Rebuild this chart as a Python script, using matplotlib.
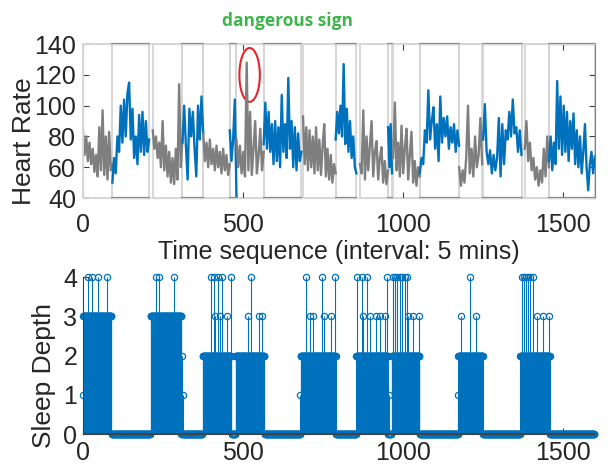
import matplotlib
matplotlib.use('Agg')
import matplotlib.pyplot as plt
from matplotlib.patches import Rectangle, Ellipse
import numpy as np

plt.rcParams['font.family'] = ['Liberation Sans', 'DejaVu Sans']

BLUE = '#0072BD'
GRAY = '#7f7f7f'

# heart rate: segments of the night (start, end), alternating grey / blue trace
SEG_START = [0, 92, 218, 311, 376, 459, 480, 565, 688, 790, 866, 954, 970, 1053, 1176, 1251, 1381, 1457]
SEG_END = [92, 207, 311, 376, 459, 480, 565, 683, 790, 855, 954, 966, 1053, 1176, 1248, 1371, 1457, 1600]
SEG_BLUE = [False, True] * 9

# heart rate values, evenly spread over each segment
hr_s01 = [84, 68, 80, 64, 76, 62, 72, 57, 68, 54, 86, 58, 97, 55, 80, 52, 83, 58, 62]
hr_s02 = [50, 66, 56, 80, 70, 100, 76, 104, 80, 108, 115, 78, 98, 66, 80, 62, 94, 70, 96, 68, 90, 70, 78]
hr_s03 = [84, 72, 80, 66, 76, 60, 90, 58, 74, 54, 70, 50, 66, 49, 72, 52, 114, 60, 78]
hr_s04 = [76, 100, 74, 52, 98, 80, 96, 72, 54, 100, 78, 106, 82]
hr_s05 = [82, 64, 76, 60, 78, 62, 72, 58, 74, 60, 70, 56, 72, 58, 68, 55, 62]
hr_s06 = [84, 64, 78, 104, 40]
hr_s07 = [78, 60, 74, 56, 70, 54, 128, 58, 96, 55, 72, 90, 56, 68, 85, 58, 70]
hr_s08 = [75, 102, 72, 96, 70, 88, 62, 90, 64, 86, 60, 107, 70, 88, 66, 118, 72, 90, 60, 86, 58, 82, 64, 70]
hr_s09 = [93, 62, 86, 58, 84, 60, 80, 56, 86, 58, 78, 55, 74, 88, 54, 72, 52, 68, 50, 62, 56]
hr_s10 = [78, 96, 82, 100, 80, 127, 75, 98, 70, 90, 66, 80, 60, 56]
hr_s11 = [62, 56, 97, 52, 80, 58, 74, 90, 54, 70, 77, 52, 66, 73, 50, 64, 49, 58]
hr_s12 = [86, 60, 88, 56]
hr_s13 = [66, 102, 58, 76, 54, 87, 56, 72, 85, 52, 68, 83, 50, 64, 48, 60, 54]
hr_s14 = [56, 66, 62, 84, 76, 110, 78, 90, 99, 72, 88, 64, 106, 76, 92, 80, 93, 72, 86, 76, 88, 70, 84, 74]
hr_s15 = [60, 48, 58, 50, 66, 100, 56, 72, 54, 80, 60, 68, 92, 62]
hr_s16 = [78, 101, 70, 62, 71, 56, 68, 58, 66, 92, 54, 88, 62, 84, 78, 96, 80, 104, 82, 86, 70, 84, 68]
hr_s17 = [72, 90, 64, 76, 58, 66, 52, 60, 48, 58, 50, 72, 54, 80, 60]
hr_s18 = [64, 80, 58, 76, 62, 116, 72, 106, 68, 100, 70, 96, 64, 90, 72, 95, 62, 84, 60, 80, 56, 70, 88, 60,
          45, 62, 70, 56, 67]
HR_SEGMENTS = [hr_s01, hr_s02, hr_s03, hr_s04, hr_s05, hr_s06, hr_s07, hr_s08, hr_s09,
               hr_s10, hr_s11, hr_s12, hr_s13, hr_s14, hr_s15, hr_s16, hr_s17, hr_s18]

# sleep depth: blocks (start, end, level) plus single stems sticking out of them
N_STEPS = 1600
BLOCK_START = [1, 212, 374, 477, 680, 855, 965, 1174, 1368]
BLOCK_END = [90, 308, 465, 568, 791, 954, 1053, 1251, 1460]
BLOCK_LEVEL = [3, 3, 2, 2, 2, 2, 2, 2, 2]
DEPTH4_AT = [17, 27, 48, 74, 228, 238, 284, 399, 409, 422, 435, 464, 524, 696, 746, 787,
             857, 873, 887, 951, 968, 975, 982, 990, 998, 1006, 1014, 1211,
             1371, 1378, 1385, 1392, 1399, 1406]
DEPTH3_AT = [413, 428, 449, 517, 551, 559, 709, 720, 755, 775, 876, 897, 915, 929, 944,
             1016, 1032, 1051, 1183, 1230, 1420, 1438, 1457]
DEPTH2_AT = [310, 1366]
DEPTH1_AT = [0, 312, 680, 956, 1173]

sleep = np.zeros(N_STEPS)
for s, e, lv in zip(BLOCK_START, BLOCK_END, BLOCK_LEVEL):
    sleep[s:e] = lv
for lv, xs in [(4, DEPTH4_AT), (3, DEPTH3_AT), (2, DEPTH2_AT), (1, DEPTH1_AT)]:
    sleep[xs] = lv
t = np.arange(N_STEPS)

fig = plt.figure(figsize=(6.1, 4.72), dpi=100)
ax1 = fig.add_axes([0.136, 0.5805, 0.839, 0.326])
ax2 = fig.add_axes([0.136, 0.0805, 0.839, 0.3326])

# top: heart rate
for s, e, blue, vals in zip(SEG_START, SEG_END, SEG_BLUE, HR_SEGMENTS):
    x = np.linspace(s, e, len(vals))
    ax1.plot(x, vals, color=BLUE if blue else GRAY, lw=1.7)
    ax1.add_patch(Rectangle((s, 40), e - s, 100, fill=False, ec='#d6d6d6', lw=1.3, clip_on=False))
    if blue:
        ax1.plot([s, e], [140, 140], color='#858585', lw=1.6, clip_on=False)
        ax1.plot([s, e], [40, 40], color='#858585', lw=1.6, clip_on=False)

ax1.add_patch(Ellipse((521, 120), 64, 35, fill=False, ec='#e3262b', lw=1.5))

ax1.set_xlim(0, 1600)
ax1.set_ylim(40, 140)
ax1.set_xticks([0, 500, 1000, 1500])
ax1.set_yticks([40, 60, 80, 100, 120, 140])
for sp in ax1.spines.values():
    sp.set_color('#d6d6d6')
ax1.spines['right'].set_color('#808080')
ax1.tick_params(direction='in', top=True, right=True, length=4, width=0.8, color='#404040',
                labelsize=18, labelcolor='#262626')
ax1.tick_params(axis='x', pad=11)
ax1.tick_params(axis='y', pad=5)
ax1.set_xlabel('Time sequence (interval: 5 mins)', fontsize=18, color='#262626', labelpad=2)

# bottom: sleep depth
markerline, stemlines, baseline = ax2.stem(t, sleep)
markerline.set_color(BLUE)
markerline.set_markerfacecolor('none')
markerline.set_markersize(4.5)
markerline.set_markeredgewidth(0.9)
markerline.set_clip_on(False)
stemlines.set_color(BLUE)
stemlines.set_linewidth(0.8)
baseline.set_color('#005a9a')
baseline.set_linewidth(1.5)

ax2.set_xlim(0, 1600)
ax2.set_ylim(0, 4)
ax2.set_xticks([0, 500, 1000, 1500])
ax2.set_yticks([0, 1, 2, 3, 4])
ax2.spines['top'].set_visible(False)
ax2.spines['right'].set_visible(False)
ax2.spines['left'].set_color('#404040')
ax2.spines['bottom'].set_color('#404040')
ax2.tick_params(direction='in', length=4, width=0.8, color='#404040',
                labelsize=18, labelcolor='#262626')
ax2.tick_params(axis='x', pad=5)
ax2.tick_params(axis='y', pad=4)

fig.text(24 / 610, 1 - 141 / 472, 'Heart Rate', rotation=90, ha='center', va='center',
         fontsize=19, color='#262626')
fig.text(44 / 610, 1 - 375 / 472, 'Sleep Depth', rotation=90, ha='center', va='center',
         fontsize=19, color='#262626')
fig.text(287 / 610, 1 - 21 / 472, 'dangerous sign', ha='center', va='center',
         family=['Open Sans', 'DejaVu Sans'], weight='bold', fontsize=12.5, color='#3cb54a')

fig.savefig('out.png', dpi=100)
